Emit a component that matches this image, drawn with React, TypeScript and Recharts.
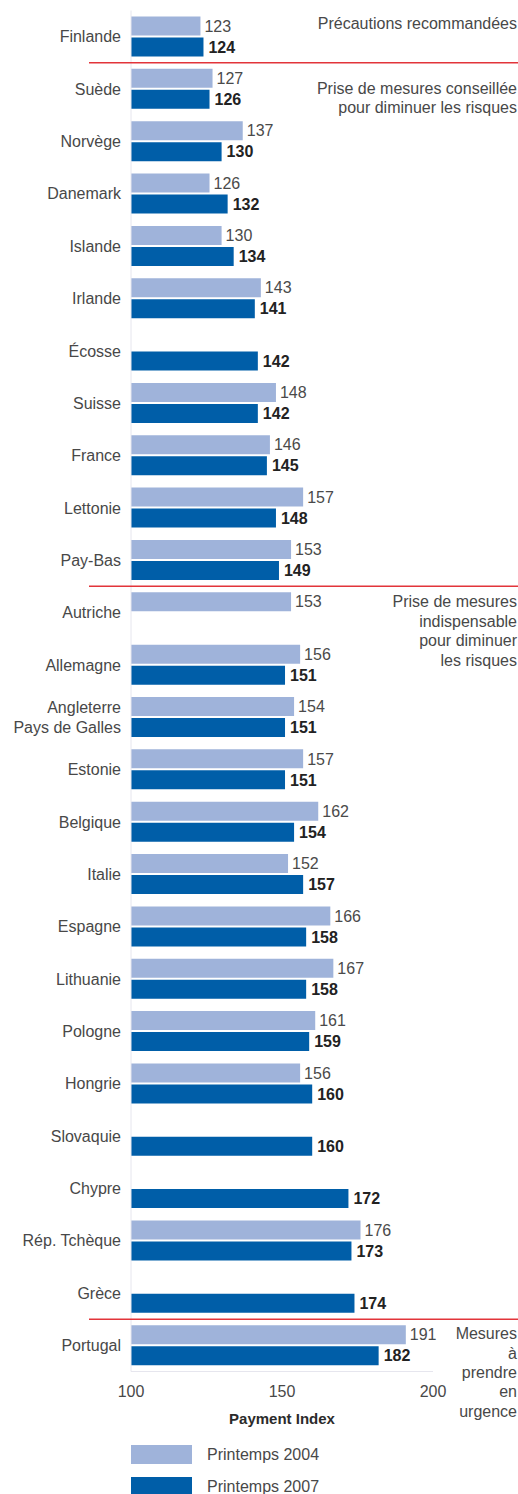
import { BarChart, Bar, XAxis, YAxis, LabelList } from "recharts"

// Payment Index, printemps 2004 vs printemps 2007
const countries = [
  "Finlande",
  "Suède",
  "Norvège",
  "Danemark",
  "Islande",
  "Irlande",
  "Écosse",
  "Suisse",
  "France",
  "Lettonie",
  "Pay-Bas",
  "Autriche",
  "Allemagne",
  "Angleterre\nPays de Galles",
  "Estonie",
  "Belgique",
  "Italie",
  "Espagne",
  "Lithuanie",
  "Pologne",
  "Hongrie",
  "Slovaquie",
  "Chypre",
  "Rép. Tchèque",
  "Grèce",
  "Portugal",
]
const spring2004 = [
  123, 127, 137, 126, 130, 143, null, 148, 146, 157, 153, 153, 156, 154, 157,
  162, 152, 166, 167, 161, 156, null, null, 176, null, 191,
]
const spring2007 = [
  124, 126, 130, 132, 134, 141, 142, 142, 145, 148, 149, null, 151, 151, 151,
  154, 157, 158, 158, 159, 160, 160, 172, 173, 174, 182,
]
const xTicks = [100, 150, 200]

// risk zones: first country of each zone + the note on the right
const zoneStarts = ["Finlande", "Suède", "Autriche", "Portugal"]
const zoneNotes = [
  ["Précautions recommandées"],
  ["Prise de mesures conseillée", "pour diminuer les risques"],
  ["Prise de mesures", "indispensable", "pour diminuer", "les risques"],
  ["Mesures", "à", "prendre", "en", "urgence"],
]

const data = countries.map((country, i) => ({
  country,
  y2004: spring2004[i],
  y2007: spring2007[i],
}))

const W = 518
const H = 1430
const margin = { top: 10.5, right: 85, bottom: 6.5, left: 0 }
const X_AXIS_H = 52
const BAND = (H - margin.top - margin.bottom - X_AXIS_H) / countries.length

const FONT = "'Liberation Sans', Arial, Helvetica, sans-serif"
const FS = 16
const LIGHT = "#9fb3da"
const DARK = "#005ea8"
const RED = "#e2343a"
const AXIS = "#e6e6ee"
const TEXT = "#484848"

// where the first note line sits below the zone's top, and line spacing
const noteOffset = [12.8, 25, 15, 14.5]
const noteLeading = [19.5, 19, 19.5, 19.3]

function CountryTick(props: any) {
  const { x, y, payload } = props
  const name: string = payload.value
  const lines = name.split("\n")
  const zone = zoneStarts.indexOf(name)
  const top = y - BAND / 2
  return (
    <g>
      <text x={x} y={y} textAnchor="end" fill={TEXT} fontSize={FS} fontFamily={FONT}>
        {lines.map((l, i) => (
          <tspan
            key={i}
            x={x}
            dy={i === 0 ? `${0.36 - (lines.length - 1) * 0.6}em` : "1.2em"}
          >
            {l}
          </tspan>
        ))}
      </text>
      {zone > 0 && (
        <line x1={89} x2={W} y1={top} y2={top} stroke={RED} strokeWidth={1.5} />
      )}
      {zone >= 0 &&
        zoneNotes[zone].map((l, i) => (
          <text
            key={i}
            x={W - 1}
            y={top + noteOffset[zone] + i * noteLeading[zone]}
            dy="0.36em"
            textAnchor="end"
            fill={TEXT}
            fontSize={FS}
            fontFamily={FONT}
          >
            {l}
          </text>
        ))}
    </g>
  )
}

const fmt = (v: any) => (v == null ? "" : v)

export default function App() {
  return (
    <div
      style={{
        position: "absolute",
        left: 0,
        top: 0,
        width: W,
        height: 1494,
        overflow: "hidden",
        background: "#fff",
        fontFamily: FONT,
      }}
    >
      <BarChart
        width={W}
        height={H}
        data={data}
        layout="vertical"
        margin={margin}
        barSize={19}
        barGap={2}
      >
        <XAxis
          type="number"
          domain={[100, 200]}
          ticks={xTicks}
          allowDataOverflow
          tickLine={false}
          tickMargin={8}
          axisLine={{ stroke: AXIS }}
          height={X_AXIS_H}
          tick={{ fill: TEXT, fontSize: FS, fontFamily: FONT }}
          label={{
            value: "Payment Index",
            position: "insideBottom",
            offset: 0,
            fill: "#2b2b2b",
            fontSize: 15,
            fontWeight: "bold",
            fontFamily: FONT,
          }}
        />
        <YAxis
          type="category"
          dataKey="country"
          width={131}
          interval={0}
          tickLine={false}
          tickMargin={4}
          axisLine={{ stroke: AXIS }}
          tick={<CountryTick />}
        />
        <Bar dataKey="y2004" name="Printemps 2004" fill={LIGHT} isAnimationActive={false}>
          <LabelList
            dataKey="y2004"
            position="right"
            offset={4}
            formatter={fmt}
            fill="#4a4a4a"
            fontSize={FS}
            fontFamily={FONT}
          />
        </Bar>
        <Bar dataKey="y2007" name="Printemps 2007" fill={DARK} isAnimationActive={false}>
          <LabelList
            dataKey="y2007"
            position="right"
            offset={5}
            formatter={fmt}
            fill="#222"
            fontSize={FS}
            fontWeight="bold"
            fontFamily={FONT}
          />
        </Bar>
      </BarChart>
      <div style={{ position: "absolute", left: 131, top: 1445 }}>
        {[
          { label: "Printemps 2004", color: LIGHT },
          { label: "Printemps 2007", color: DARK },
        ].map((item) => (
          <div
            key={item.label}
            style={{ display: "flex", alignItems: "center", height: 19, marginBottom: 13 }}
          >
            <div style={{ width: 61, height: 19, background: item.color }} />
            <span style={{ marginLeft: 15, fontSize: FS, color: TEXT }}>{item.label}</span>
          </div>
        ))}
      </div>
    </div>
  )
}
